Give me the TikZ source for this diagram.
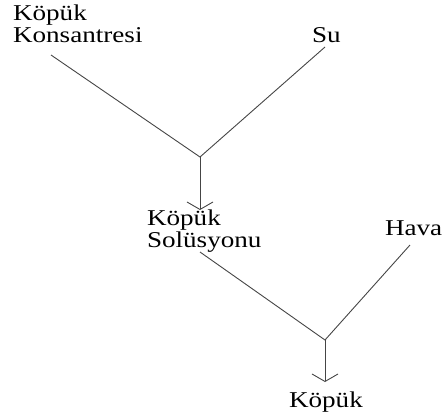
\documentclass[tikz,border=0pt]{standalone}
\usepackage{fontspec}
\setmainfont{Liberation Serif}
\usetikzlibrary{arrows.meta}
\definecolor{ln}{HTML}{454545}
\newcommand{\widetxt}[1]{\scalebox{1.2}[1]{#1}}
\tikzset{
  lab/.style={inner sep=0pt, outer sep=0pt, align=left, font=\fontsize{22.6}{21.5}\selectfont, anchor=base west},
  conn/.style={draw=ln, line width=0.9pt},
  flow/.style={conn, -{Straight Barb[width=26pt,length=7.5pt,line width=0.9pt]}}
}
\begin{document}
\begin{tikzpicture}[x=1pt,y=-1pt]
\useasboundingbox (0,0) rectangle (444,418);
\node[lab] (kk) at (13,42) {\widetxt{Köpük}\\\widetxt{Konsantresi}};
\node[lab] (su) at (312,42) {\widetxt{Su}};
\node[lab] (ks) at (147,247) {\widetxt{Köpük}\\\widetxt{Solüsyonu}};
\node[lab] (hv) at (385,235) {\widetxt{Hava}};
\node[lab] (kp) at (289,407) {\widetxt{Köpük}};
\coordinate (kke) at (51,55);
\coordinate (sue) at (325,47);
\coordinate (j1) at (200,157);
\coordinate (kst) at (200,210);
\coordinate (kse) at (200,252);
\coordinate (hve) at (410,245);
\coordinate (j2) at (325,340);
\coordinate (kpt) at (325,382);
\draw[conn] (kke) -- (j1) -- (sue);
\draw[flow] (j1) -- (kst);
\draw[conn] (kse) -- (j2) -- (hve);
\draw[flow] (j2) -- (kpt);
\end{tikzpicture}
\end{document}
